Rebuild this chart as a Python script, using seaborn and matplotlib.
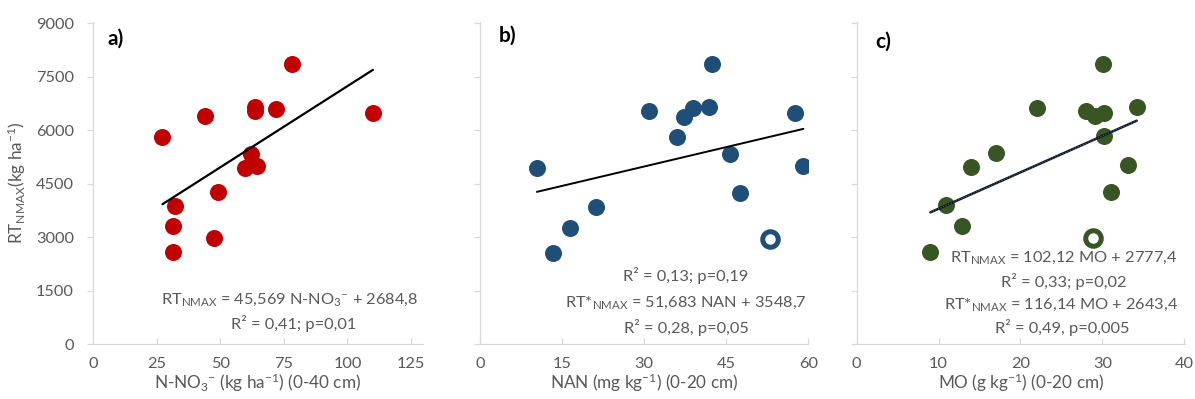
import numpy as np
import pandas as pd
import matplotlib
matplotlib.use("Agg")
import matplotlib.pyplot as plt
import seaborn as sns

# ---------------- data ----------------
a_x = [27.2, 44.1, 78.0, 63.7, 63.7, 71.8, 110.0, 61.9, 59.6, 64.6, 49.1, 32.0, 31.3, 31.3, 47.4]
a_y = [5800, 6390, 7860, 6660, 6530, 6610, 6490, 5340, 4940, 5010, 4260, 3880, 3300, 2570, 2970]

b_x = [10.4, 13.4, 16.5, 21.2, 30.8, 36.0, 37.2, 39.0, 41.9, 42.4, 45.7, 47.5, 57.6, 59.1]
b_y = [4940, 2550, 3270, 3860, 6530, 5800, 6370, 6630, 6650, 7850, 5330, 4240, 6490, 4990]
b_out_x = [53.0]
b_out_y = [2950]

c_x = [9.0, 10.9, 12.9, 14.0, 17.0, 22.0, 28.0, 29.1, 30.2, 30.1, 30.2, 34.2, 33.1, 31.1]
c_y = [2580, 3910, 3300, 4960, 5350, 6630, 6550, 6410, 6490, 7870, 5830, 6660, 5020, 4260]
c_out_x = [28.9]
c_out_y = [2990]

# trend lines: slope, intercept (from the equations printed on the chart)
a_trend = (45.569, 2684.8)
c_trend = (102.12, 2777.4)

y_ticks = [0, 1500, 3000, 4500, 6000, 7500, 9000]
a_ticks = [0, 25, 50, 75, 100, 125]
b_ticks = [0, 15, 30, 45, 60]
c_ticks = [0, 10, 20, 30, 40]

# ---------------- style ----------------
sns.set_theme(style="white")
plt.rcParams["font.family"] = ["Lato", "DejaVu Sans"]
plt.rcParams["mathtext.fontset"] = "custom"
plt.rcParams["mathtext.rm"] = "Lato"
plt.rcParams["mathtext.it"] = "Lato:italic"
plt.rcParams["mathtext.bf"] = "Lato:bold"

GREY = "#595959"
SPINE = "#d9d9d9"
RED = "#C00000"
BLUE = "#1F4E79"
GREEN = "#375623"

fig = plt.figure(figsize=(11.95, 3.99), dpi=100)
W, H = 1195, 399
bottom_px, top_px = 344, 21.7
ymax = 9050

def make_ax(left_px, right_px):
    ax = fig.add_axes([left_px / W, (H - bottom_px) / H,
                       (right_px - left_px) / W, (bottom_px - top_px) / H])
    return ax

A_L, A_R, A_MAX = 93.3, 422.7, 129.6
B_L, B_R, B_MAX = 480.0, 808.3, 60.0
C_L, C_R, C_MAX = 856.7, 1185.0, 40.1

axA = make_ax(A_L, A_R)
axB = make_ax(B_L, B_R)
axC = make_ax(C_L, C_R)

def px2y(py):
    return (bottom_px - py) / (bottom_px - top_px) * ymax

def px2x(px, left, right, xmax):
    return (px - left) / (right - left) * xmax

def style(ax, xlim, xticks, show_ylabels):
    ax.set_xlim(*xlim)
    ax.set_ylim(0, ymax)
    ax.set_xticks(xticks)
    ax.set_yticks(y_ticks)
    for s in ["top", "right"]:
        ax.spines[s].set_visible(False)
    for s in ["left", "bottom"]:
        ax.spines[s].set_color(SPINE)
        ax.spines[s].set_linewidth(0.9)
    ax.tick_params(axis="x", direction="in", length=4, width=0.9, color=SPINE,
                   labelsize=11.8, labelcolor=GREY, pad=9, bottom=True)
    ax.tick_params(axis="y", direction="out", length=4, width=0.9, color=SPINE,
                   labelsize=11.8, labelcolor=GREY, pad=10, left=True)
    ax.set_xticklabels([str(t) for t in xticks])
    if show_ylabels:
        ax.set_yticklabels([str(t) for t in y_ticks])
    else:
        ax.set_yticklabels([])
    ax.grid(False)

TXT = dict(fontsize=11.8, color=GREY, ha="center", va="center")
LETTER = dict(fontsize=15, fontweight="bold", color="black", ha="left", va="center")

# ---------------- panel a ----------------
dfa = pd.DataFrame({"x": a_x, "y": a_y})
sns.scatterplot(data=dfa, x="x", y="y", ax=axA, color=RED, s=150, linewidth=0, zorder=3)
xa = np.array([min(a_x), max(a_x)])
sns.lineplot(x=xa, y=a_trend[0] * xa + a_trend[1], ax=axA, color="black", linewidth=1.6, zorder=4)
style(axA, (0, A_MAX), a_ticks, True)
axA.set_xlabel(r"N-NO$_3$$^{-}$ (kg ha$^{-1}$) (0-40 cm)", fontsize=12.3, color=GREY, labelpad=1)
axA.set_ylabel(r"RT$_{\rm NMAX}$(kg ha$^{-1}$)", fontsize=12.3, color=GREY, labelpad=6)
axA.text(0.042, 0.947, "a)", transform=axA.transAxes, **LETTER)
axA.text(px2x(290, A_L, A_R, A_MAX), px2y(300),
         r"RT$_{\rm NMAX}$ = 45,569 N-NO$_3$$^{-}$ + 2684,8", **TXT)
axA.text(px2x(294, A_L, A_R, A_MAX), px2y(323), "R² = 0,41; p=0,01", **TXT)

# ---------------- panel b ----------------
dfb = pd.DataFrame({"x": b_x, "y": b_y})
sns.scatterplot(data=dfb, x="x", y="y", ax=axB, color=BLUE, s=150, linewidth=0, zorder=3)
sns.scatterplot(x=b_out_x, y=b_out_y, ax=axB, facecolor="white", edgecolor=BLUE,
                s=125, linewidth=3.6, zorder=3)
all_bx = np.array(b_x + b_out_x)
all_by = np.array(b_y + b_out_y)
b_slope, b_int = np.polyfit(all_bx, all_by, 1)
xb = np.array([all_bx.min(), all_bx.max()])
sns.lineplot(x=xb, y=b_slope * xb + b_int, ax=axB, color="black", linewidth=1.4, zorder=4)
style(axB, (0, B_MAX), b_ticks, False)
axB.set_xlabel(r"NAN (mg kg$^{-1}$) (0-20 cm)", fontsize=12.3, color=GREY, labelpad=1)
axB.set_ylabel("")
axB.text(0.058, 0.957, "b)", transform=axB.transAxes, **LETTER)
bxc = px2x(686, B_L, B_R, B_MAX)
axB.text(bxc, px2y(275), "R² = 0,13; p=0,19", **TXT)
axB.text(bxc, px2y(303), r"RT*$_{\rm NMAX}$ = 51,683 NAN + 3548,7", **TXT)
axB.text(bxc, px2y(327), "R² = 0,28, p=0,05", **TXT)

# ---------------- panel c ----------------
dfc = pd.DataFrame({"x": c_x, "y": c_y})
sns.scatterplot(data=dfc, x="x", y="y", ax=axC, color=GREEN, s=150, linewidth=0, zorder=3)
sns.scatterplot(x=c_out_x, y=c_out_y, ax=axC, facecolor="white", edgecolor=GREEN,
                s=125, linewidth=3.6, zorder=3)
xc = np.array([min(c_x), max(c_x)])
sns.lineplot(x=xc, y=c_trend[0] * xc + c_trend[1], ax=axC, color="#101820", linewidth=1.8, zorder=4)
axC.plot(xc, c_trend[0] * xc + c_trend[1], color="#3b5f8a", linewidth=0.8,
         linestyle=(0, (1, 1.5)), zorder=5)
style(axC, (0, C_MAX), c_ticks, False)
axC.set_xlabel(r"MO (g kg$^{-1}$) (0-20 cm)", fontsize=12.3, color=GREY, labelpad=1)
axC.set_ylabel("")
axC.text(0.058, 0.937, "c)", transform=axC.transAxes, **LETTER)
axC.text(px2x(1064, C_L, C_R, C_MAX), px2y(258), r"RT$_{\rm NMAX}$ = 102,12 MO + 2777,4", **TXT)
axC.text(px2x(1064, C_L, C_R, C_MAX), px2y(282), "R² = 0,33; p=0,02", **TXT)
axC.text(px2x(1061, C_L, C_R, C_MAX), px2y(305), r"RT*$_{\rm NMAX}$ = 116,14 MO + 2643,4", **TXT)
axC.text(px2x(1062, C_L, C_R, C_MAX), px2y(328), "R² = 0,49, p=0,005", **TXT)

fig.savefig("out.png", dpi=100)
